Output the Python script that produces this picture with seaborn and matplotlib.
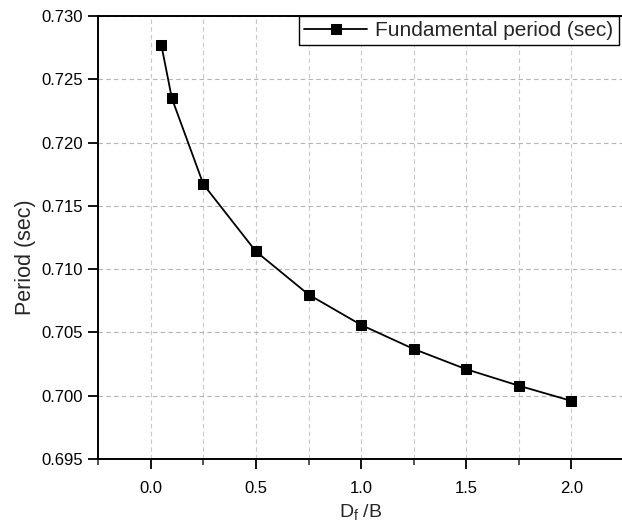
import numpy as np
import pandas as pd
import seaborn as sns
import matplotlib.pyplot as plt
from matplotlib.ticker import MultipleLocator

# Data
df_ratio = [0.05, 0.10, 0.25, 0.50, 0.75, 1.00, 1.25, 1.50, 1.75, 2.00]
period = [0.7277, 0.7235, 0.7167, 0.7114, 0.7080, 0.7056, 0.7037, 0.7021, 0.7008, 0.6996]

df = pd.DataFrame({"Df/B": df_ratio, "Period": period})

sns.set_style("ticks")
plt.rcParams["font.family"] = ["Liberation Sans", "DejaVu Sans"]
plt.rcParams["mathtext.default"] = "regular"

fig = plt.figure(figsize=(6.22, 5.32), dpi=100)
ax = fig.add_axes([0.158, 0.137, 0.845, 0.833])

sns.lineplot(data=df, x="Df/B", y="Period", ax=ax, color="black", linewidth=1.3,
             marker="s", markersize=7.5, markeredgecolor="black",
             label="Fundamental period (sec)")

ax.set_xlim(-0.25, 2.25)
ax.set_ylim(0.695, 0.730)
ax.xaxis.set_major_locator(MultipleLocator(0.5))
ax.xaxis.set_minor_locator(MultipleLocator(0.25))
ax.yaxis.set_major_locator(MultipleLocator(0.005))
ax.yaxis.set_major_formatter(plt.FormatStrFormatter("%.3f"))

ax.grid(True, which="both", axis="x", linestyle=(0, (4, 3)), color="#c8c8c8", linewidth=0.8)
ax.grid(True, which="major", axis="y", linestyle=(0, (4, 3)), color="#b4b4b4", linewidth=0.8)

ax.tick_params(axis="both", which="major", direction="out", length=7, width=1.3, labelsize=12, colors="black")
ax.tick_params(axis="x", which="minor", direction="out", length=4, width=1.1)
ax.tick_params(axis="x", which="major", pad=9)
ax.tick_params(axis="y", which="major", pad=4)

for s in ax.spines.values():
    s.set_linewidth(1.4)
    s.set_color("black")

ax.set_xlabel("D$_f$ /B", fontsize=14, labelpad=4)
ax.set_ylabel("Period (sec)", fontsize=15.5)
ax.yaxis.set_label_coords(-0.118, 0.455)

leg = ax.legend(loc="upper right", bbox_to_anchor=(0.99, 1.0), fontsize=15, frameon=True,
                fancybox=False, borderaxespad=0.0, handlelength=3.0, borderpad=0.25,
                handletextpad=0.4)
leg.get_frame().set_edgecolor("black")
leg.get_frame().set_linewidth(1.0)
leg.get_frame().set_alpha(1)

fig.savefig("out.png", dpi=100)
